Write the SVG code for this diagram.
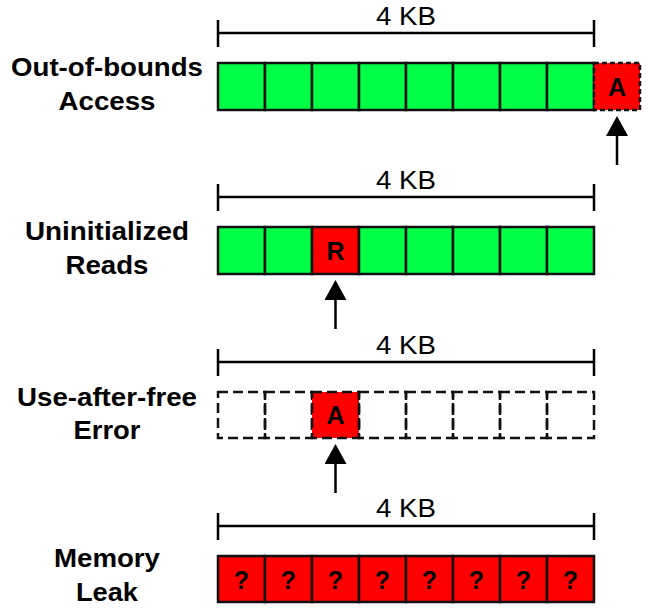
<svg xmlns="http://www.w3.org/2000/svg" width="649" height="614" viewBox="0 0 649 614">
<style>
.lbl{font-family:"Liberation Sans",Arial,sans-serif;font-weight:bold;font-size:26px;fill:#000;text-anchor:middle}
.kb{font-family:"Liberation Sans",Arial,sans-serif;font-size:26px;fill:#000;text-anchor:middle}
.ch{font-family:"Liberation Sans",Arial,sans-serif;font-weight:bold;font-size:25px;fill:#000;text-anchor:middle}
.br{stroke:#000;stroke-width:2.5;fill:none}
.g{fill:#00ff46;stroke:#111;stroke-width:2.5}
.r{fill:#ff0000;stroke:#111;stroke-width:2.5}
.rd{fill:#ff0000;stroke:#111;stroke-width:2.5;stroke-dasharray:5 3}
.d{fill:none;stroke:#111;stroke-width:2.5;stroke-dasharray:10 5}
.rdd{fill:#ff0000;stroke:#111;stroke-width:2.5;stroke-dasharray:10 5}
.ar{stroke:#000;stroke-width:2.5;fill:none}
</style>
<defs>
<marker id="ah" markerUnits="userSpaceOnUse" markerWidth="20" markerHeight="22" viewBox="0 0 20 22" refX="0" refY="11" orient="auto">
<path d="M0,0 L20,11 L0,22 Z" fill="#000"/>
</marker>
</defs>
<rect width="649" height="614" fill="#fff"/>

<!-- Row 1: Out-of-bounds Access -->
<g id="label-oob">
<text class="lbl" x="107" y="76" textLength="192" lengthAdjust="spacingAndGlyphs">Out-of-bounds</text>
<text class="lbl" x="107" y="109.5" textLength="97" lengthAdjust="spacingAndGlyphs">Access</text>
</g>
<g id="size-oob">
<text class="kb" x="406" y="25" textLength="60" lengthAdjust="spacingAndGlyphs">4 KB</text>
<path class="br" d="M218,33 H594 M218,20 V47 M594,20 V47"/>
</g>
<g id="block-oob">
<rect class="g" x="218" y="63" width="47" height="47"/>
<rect class="g" x="265" y="63" width="47" height="47"/>
<rect class="g" x="312" y="63" width="47" height="47"/>
<rect class="g" x="359" y="63" width="47" height="47"/>
<rect class="g" x="406" y="63" width="47" height="47"/>
<rect class="g" x="453" y="63" width="47" height="47"/>
<rect class="g" x="500" y="63" width="47" height="47"/>
<rect class="g" x="547" y="63" width="47" height="47"/>
<rect class="rd" x="594" y="63" width="46" height="47"/>
<text class="ch" x="617" y="95.5">A</text>
</g>

<!-- Row 2: Uninitialized Reads -->
<g id="label-uninit">
<text class="lbl" x="107" y="240" textLength="164" lengthAdjust="spacingAndGlyphs">Uninitialized</text>
<text class="lbl" x="107" y="274" textLength="83" lengthAdjust="spacingAndGlyphs">Reads</text>
</g>
<g id="size-uninit">
<text class="kb" x="406" y="189" textLength="60" lengthAdjust="spacingAndGlyphs">4 KB</text>
<path class="br" d="M218,197 H594 M218,184 V211 M594,184 V211"/>
</g>
<g id="block-uninit">
<rect class="g" x="218" y="227" width="47" height="47"/>
<rect class="g" x="265" y="227" width="47" height="47"/>
<rect class="r" x="312" y="227" width="47" height="47"/>
<rect class="g" x="359" y="227" width="47" height="47"/>
<rect class="g" x="406" y="227" width="47" height="47"/>
<rect class="g" x="453" y="227" width="47" height="47"/>
<rect class="g" x="500" y="227" width="47" height="47"/>
<rect class="g" x="547" y="227" width="47" height="47"/>
<text class="ch" x="335.5" y="259.5">R</text>
</g>

<!-- Row 3: Use-after-free Error -->
<g id="label-uaf">
<text class="lbl" x="107" y="406" textLength="180" lengthAdjust="spacingAndGlyphs">Use-after-free</text>
<text class="lbl" x="107" y="439" textLength="67" lengthAdjust="spacingAndGlyphs">Error</text>
</g>
<g id="size-uaf">
<text class="kb" x="406" y="354" textLength="60" lengthAdjust="spacingAndGlyphs">4 KB</text>
<path class="br" d="M218,362 H594 M218,349 V376 M594,349 V376"/>
</g>
<g id="block-uaf">
<rect class="d" x="218" y="392" width="47" height="46"/>
<rect class="d" x="265" y="392" width="47" height="46"/>
<rect class="rdd" x="312" y="392" width="47" height="46"/>
<rect class="d" x="359" y="392" width="47" height="46"/>
<rect class="d" x="406" y="392" width="47" height="46"/>
<rect class="d" x="453" y="392" width="47" height="46"/>
<rect class="d" x="500" y="392" width="47" height="46"/>
<rect class="d" x="547" y="392" width="47" height="46"/>
<text class="ch" x="335.5" y="424">A</text>
</g>

<!-- Row 4: Memory Leak -->
<g id="label-leak">
<text class="lbl" x="107" y="567" textLength="106" lengthAdjust="spacingAndGlyphs">Memory</text>
<text class="lbl" x="107" y="601" textLength="62" lengthAdjust="spacingAndGlyphs">Leak</text>
</g>
<g id="size-leak">
<text class="kb" x="406" y="517" textLength="60" lengthAdjust="spacingAndGlyphs">4 KB</text>
<path class="br" d="M218,526 H594 M218,513 V540 M594,513 V540"/>
</g>
<g id="block-leak">
<rect class="r" x="218" y="556" width="47" height="46"/>
<rect class="r" x="265" y="556" width="47" height="46"/>
<rect class="r" x="312" y="556" width="47" height="46"/>
<rect class="r" x="359" y="556" width="47" height="46"/>
<rect class="r" x="406" y="556" width="47" height="46"/>
<rect class="r" x="453" y="556" width="47" height="46"/>
<rect class="r" x="500" y="556" width="47" height="46"/>
<rect class="r" x="547" y="556" width="47" height="46"/>
<text class="ch" x="241.5" y="588.5">?</text>
<text class="ch" x="288.5" y="588.5">?</text>
<text class="ch" x="335.5" y="588.5">?</text>
<text class="ch" x="382.5" y="588.5">?</text>
<text class="ch" x="429.5" y="588.5">?</text>
<text class="ch" x="476.5" y="588.5">?</text>
<text class="ch" x="523.5" y="588.5">?</text>
<text class="ch" x="570.5" y="588.5">?</text>
</g>

<g id="connectors">
<line class="ar" x1="617" y1="165" x2="617" y2="136" marker-end="url(#ah)"/>
<line class="ar" x1="335.5" y1="329" x2="335.5" y2="300" marker-end="url(#ah)"/>
<line class="ar" x1="335.5" y1="493" x2="335.5" y2="464" marker-end="url(#ah)"/>
</g>
</svg>
